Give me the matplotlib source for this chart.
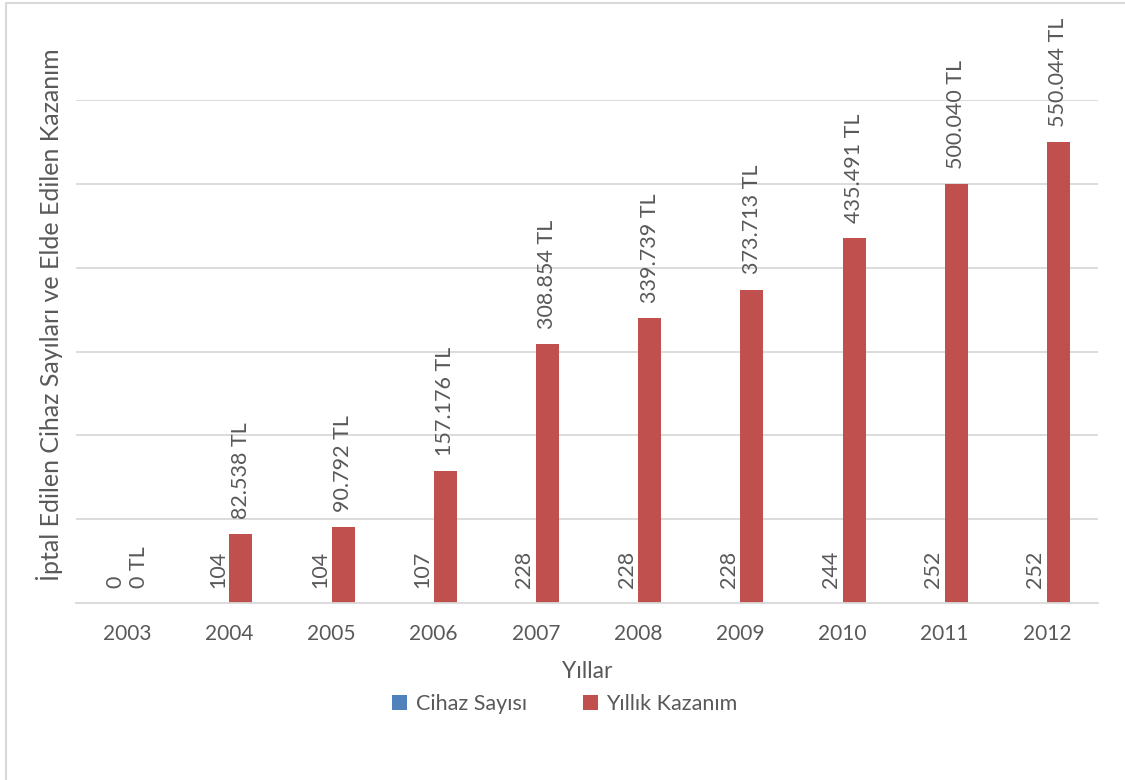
import matplotlib
matplotlib.use("Agg")
import matplotlib.pyplot as plt
from matplotlib.lines import Line2D
import numpy as np

plt.rcParams['font.family'] = ['Lato', 'DejaVu Sans']

years = ["2003", "2004", "2005", "2006", "2007", "2008", "2009", "2010", "2011", "2012"]
cihaz = [0, 104, 104, 107, 228, 228, 228, 244, 252, 252]
kazanim = [0, 82538, 90792, 157176, 308854, 339739, 373713, 435491, 500040, 550044]

txt = '#595959'
blue = '#4F81BD'
red = '#C0504D'


def tl(v):
    return f"{v:,}".replace(",", ".") + " TL"


fig = plt.figure(figsize=(11.25, 7.8), dpi=100)
ax = fig.add_axes([0.0676, 0.2269, 0.9084, 0.6449])

x = np.arange(len(years))
w = 0.225
b1 = ax.bar(x - w / 2, cihaz, w, color=blue, label="Cihaz Sayısı")
b2 = ax.bar(x + w / 2, kazanim, w, color=red, label="Yıllık Kazanım")

for xi, v in zip(x, cihaz):
    ax.annotate(str(v), (xi - w / 2, v), xytext=(0, 11), textcoords='offset points',
                rotation=90, ha='center', va='bottom', fontsize=15.5, color=txt)
for xi, v in zip(x, kazanim):
    ax.annotate(tl(v), (xi + w / 2, v), xytext=(0, 11), textcoords='offset points',
                rotation=90, ha='center', va='bottom', fontsize=15.5, color=txt,
                annotation_clip=False)

ax.set_ylim(0, 600000)
ax.set_xlim(-0.5, len(years) - 0.5)
ax.set_yticks(np.arange(0, 600001, 100000))
ax.set_yticklabels([])
ax.tick_params(axis='y', length=0)
ax.tick_params(axis='x', length=0, labelsize=15, labelcolor=txt, pad=15)
ax.set_xticks(x)
ax.set_xticklabels(years)
ax.grid(axis='y', color='#D9D9D9', linewidth=1.3)
ax.set_axisbelow(True)
for s in ['top', 'right', 'left']:
    ax.spines[s].set_visible(False)
ax.spines['bottom'].set_color('#D9D9D9')
ax.spines['bottom'].set_linewidth(1.3)

ax.set_xlabel("Yıllar", fontsize=16.5, color=txt, labelpad=12)
fig.text(50 / 1125, 1 - 315 / 780, "İptal Edilen Cihaz Sayıları ve Elde Edilen Kazanım",
         rotation=90, ha='center', va='center', fontsize=18, color=txt)

fig.legend(handles=[b1, b2], loc='center', bbox_to_anchor=(0.502, 1 - 704 / 780), ncol=2,
           frameon=False, fontsize=15.5, labelcolor=txt, handlelength=0.7, handleheight=0.7,
           columnspacing=2.6, handletextpad=0.4)

# chart frame: only left and top edges fall inside the image
fig.lines.append(Line2D([5.5 / 1125, 5.5 / 1125, 1.0], [0.0, 1 - 2.5 / 780, 1 - 2.5 / 780],
                        transform=fig.transFigure, color='#D9D9D9', linewidth=1.5))

fig.savefig("out.png", dpi=100)
